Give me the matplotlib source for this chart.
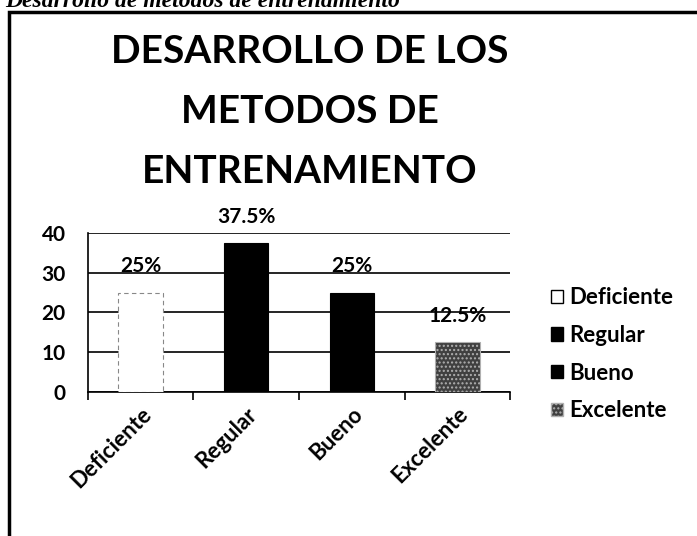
import matplotlib
matplotlib.use("Agg")
import matplotlib.pyplot as plt
from matplotlib.patches import Rectangle, Patch

categories = ["Deficiente", "Regular", "Bueno", "Excelente"]
values = [25, 37.5, 25, 12.5]
value_labels = ["25%", "37.5%", "25%", "12.5%"]
colors = ["white", "black", "black", "#404040"]
hatches = [None, None, None, "...."]

font = "Lato"

fig = plt.figure(figsize=(6.97, 5.36), dpi=100)

# caption partly cut off at the top of the scan
fig.text(0.008, 0.998, "Desarrollo de métodos de entrenamiento", family="Liberation Serif",
         style="italic", weight="bold", fontsize=17, va="center", ha="left")

# outer frame of the chart
fig.patches.append(Rectangle((0.013, -0.01), 1.0, 0.988, transform=fig.transFigure,
                             fill=False, edgecolor="black", linewidth=2.5))
fig.patches.append(Rectangle((0.011, -0.01), 0.005, 0.988, transform=fig.transFigure,
                             facecolor="black", edgecolor="none"))

fig.text(0.445, 0.792, "DESARROLLO DE LOS\nMETODOS DE\nENTRENAMIENTO", family=font,
         weight="bold", fontsize=28, ha="center", va="center", linespacing=1.85)

ax = fig.add_axes([0.126, 0.2687, 0.606, 0.2966])
x = range(len(categories))
bars = ax.bar(x, values, width=0.42, color=colors, edgecolor="black", linewidth=0.8, zorder=3)
bars[0].set_edgecolor("#888888")
bars[0].set_linestyle((0, (4, 3)))
bars[3].set_hatch(hatches[3])
bars[3].set_edgecolor("#b0b0b0")

for i, (v, lab) in enumerate(zip(values, value_labels)):
    ax.annotate(lab, (i, v), xytext=(0, 19), textcoords="offset points", ha="center", va="center",
                family=font, weight="bold", fontsize=15, zorder=4)

ax.set_xlim(-0.5, len(categories) - 0.5)
ax.set_ylim(0, 40)
ax.set_yticks([0, 10, 20, 30, 40])
ax.yaxis.grid(True, color="black", linewidth=1.2, zorder=0)
ax.set_axisbelow(True)
ax.tick_params(axis="y", length=0, pad=16)
for lab in ax.get_yticklabels():
    lab.set_family(font)
    lab.set_weight("bold")
    lab.set_fontsize(15)

ax.set_xticks([i - 0.5 for i in range(len(categories) + 1)], minor=False)
ax.set_xticklabels([])
ax.set_xticks(list(x), minor=True)
ax.set_xticklabels(categories, minor=True, rotation=45, ha="right", rotation_mode="anchor",
                   family=font, weight="bold", fontsize=16)
ax.tick_params(axis="x", which="major", length=6, width=1.2, direction="out")
ax.tick_params(axis="x", which="minor", length=0, pad=8)

ax.spines["top"].set_visible(False)
ax.spines["right"].set_visible(False)
ax.spines["left"].set_linewidth(1.2)
ax.spines["bottom"].set_linewidth(1.2)

handles = []
for c, h, name in zip(colors, hatches, categories):
    handles.append(Patch(facecolor=c, edgecolor="black" if not h else "#b0b0b0", hatch=h, label=name))
leg = fig.legend(handles=handles, loc="center left", bbox_to_anchor=(0.774, 0.339), frameon=False,
                 prop={"family": font, "weight": "bold", "size": 16}, handlelength=0.55,
                 handleheight=0.55, handletextpad=0.3, labelspacing=0.75, borderpad=0)

plt.savefig("out.png", dpi=100)
